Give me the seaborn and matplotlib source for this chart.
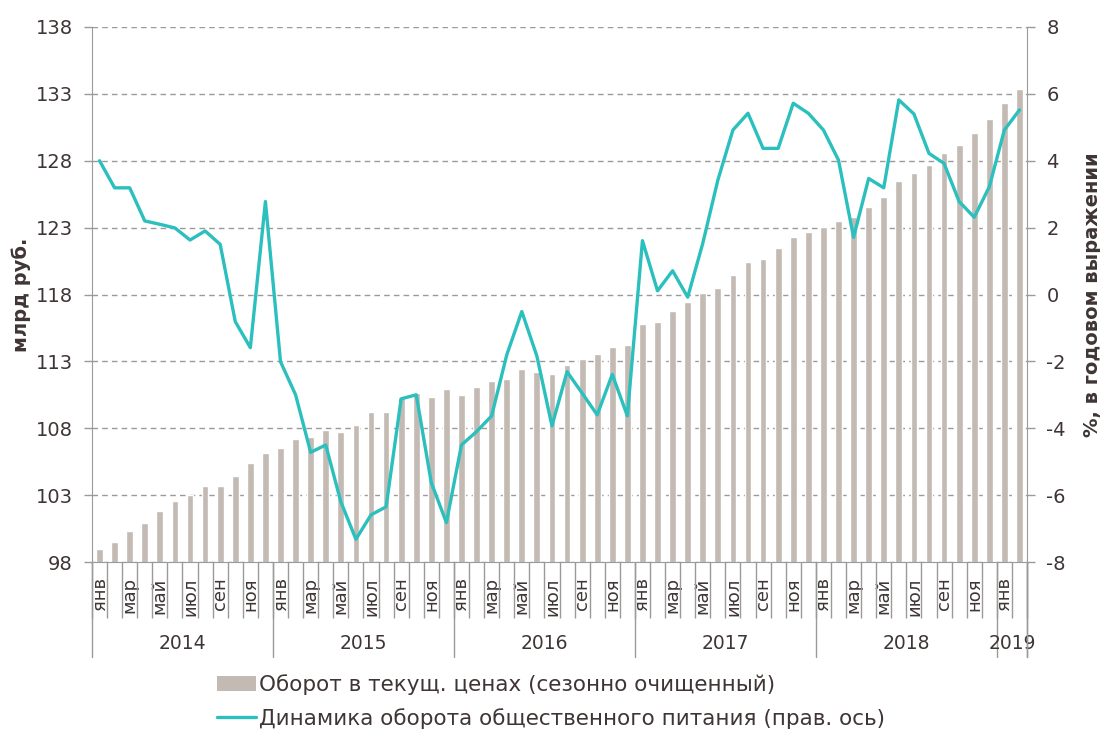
import numpy as np
import pandas as pd
import matplotlib.pyplot as plt
import matplotlib.transforms as mtransforms
from matplotlib.patches import Patch
from matplotlib.lines import Line2D
import seaborn as sns

# Данные (помесячно, янв 2014 - фев 2019)
month_names = ['янв', 'фев', 'мар', 'апр', 'май', 'июн', 'июл', 'авг', 'сен', 'окт', 'ноя', 'дек']
years = ['2014', '2015', '2016', '2017', '2018', '2019']
months_per_year = [12, 12, 12, 12, 12, 2]

turnover = [
    98.95, 99.52, 100.34, 100.92, 101.81, 102.58, 103.0, 103.71, 103.71, 104.4, 105.38, 106.15,
    106.5, 107.17, 107.37, 107.9, 107.7, 108.24, 109.2, 109.2, 110.3, 110.66, 110.3, 110.93,
    110.5, 111.08, 111.53, 111.7, 112.4, 112.2, 112.06, 112.75, 113.18, 113.55, 114.05, 114.22,
    115.82, 115.97, 116.77, 117.46, 118.14, 118.5, 119.46, 120.4, 120.65, 121.45, 122.32, 122.65,
    123.02, 123.47, 123.82, 124.57, 125.29, 126.49, 127.08, 127.71, 128.58, 129.18, 130.07, 131.12,
    132.32, 133.36,
]

growth = [
    4.0, 3.19, 3.19, 2.2, 2.1, 1.99, 1.63, 1.9, 1.5, -0.81, -1.59, 2.78,
    -2.01, -3.0, -4.72, -4.5, -6.2, -7.32, -6.59, -6.35, -3.12, -3.0, -5.63, -6.82,
    -4.5, -4.1, -3.63, -1.81, -0.51, -1.84, -3.93, -2.31, -2.95, -3.6, -2.39, -3.63,
    1.61, 0.11, 0.71, -0.08, 1.53, 3.42, 4.92, 5.42, 4.37, 4.37, 5.72, 5.42,
    4.92, 4.02, 1.71, 3.47, 3.19, 5.82, 5.4, 4.22, 3.92, 2.78, 2.31, 3.22,
    4.92, 5.52,
]

bar_label = 'Оборот в текущ. ценах (сезонно очищенный)'
line_label = 'Динамика оборота общественного питания (прав. ось)'

bar_color = '#c3bab3'
line_color = '#2bbfbd'
text_color = '#3f3535'
axis_color = '#9a9a9a'

n = len(turnover)
month_labels = [month_names[i % 12] for i in range(n)]
df = pd.DataFrame({'idx': np.arange(n), 'turnover': turnover, 'growth': growth})

sns.set_style('white')
plt.rcParams['font.family'] = ['DejaVu Sans']
plt.rcParams['axes.unicode_minus'] = False
plt.rcParams['text.color'] = text_color
plt.rcParams['axes.labelcolor'] = text_color
plt.rcParams['xtick.color'] = axis_color
plt.rcParams['ytick.color'] = axis_color
plt.rcParams['xtick.labelcolor'] = text_color
plt.rcParams['ytick.labelcolor'] = text_color

fig = plt.figure(figsize=(11, 7.36), dpi=100)
ax = fig.add_axes([92 / 1100, 1 - 562 / 736, 935 / 1100, 535 / 736])

sns.barplot(data=df, x='idx', y='turnover', color=bar_color, width=0.45,
            saturation=1, ax=ax)
ax.set_xlim(-0.5, n - 0.5)
ax.set_ylim(98, 138)
ax.set_yticks(np.arange(98, 139, 5))
ax.set_axisbelow(True)
ax.yaxis.grid(True, color='#9a9a9a', linestyle=(0, (4, 3)), linewidth=1)
ax.set_xlabel('')
ax.set_ylabel('млрд руб.', fontsize=14, fontweight='bold')
ax.yaxis.set_label_coords(-0.065, 0.5)

# подписи месяцев: каждый второй
ax.set_xticks(np.arange(n))
ax.set_xticklabels([m if i % 2 == 0 else '' for i, m in enumerate(month_labels)],
                   rotation=90, fontsize=13, va='top')
ax.tick_params(axis='x', which='major', bottom=True, length=0, pad=11)
ax.set_xticks(np.arange(-0.5, n, 1), minor=True)
ax.tick_params(axis='x', which='minor', bottom=True, length=40, width=1,
               color=axis_color, direction='out')
ax.tick_params(axis='y', left=True, length=6, width=1, labelsize=14, pad=8, color=axis_color)

for side in ['top', 'right']:
    ax.spines[side].set_visible(False)
for side in ['left', 'bottom']:
    ax.spines[side].set_color(axis_color)

# линии границ лет и подписи годов
trans = mtransforms.blended_transform_factory(ax.transData, ax.transAxes)
edges = np.concatenate([[0], np.cumsum(months_per_year)]) - 0.5
for e in edges:
    ax.plot([e, e], [0, -0.178], transform=trans, color=axis_color, lw=1, clip_on=False)
for i, y in enumerate(years):
    ax.text((edges[i] + edges[i + 1]) / 2, -0.152, y, transform=trans,
            ha='center', va='center', fontsize=13.5, color=text_color)

# правая ось
ax2 = ax.twinx()
sns.lineplot(data=df, x='idx', y='growth', color=line_color, linewidth=2.4, ax=ax2)
ax2.set_ylim(-8, 8)
ax2.set_yticks(np.arange(-8, 9, 2))
ax2.set_xlim(-0.5, n - 0.5)
ax2.set_ylabel('%, в годовом выражении', fontsize=14, fontweight='bold')
ax2.yaxis.set_label_coords(1.06, 0.5)
ax2.tick_params(axis='y', right=True, length=6, width=1, labelsize=14, pad=8, color=axis_color)
for side in ['top', 'left', 'bottom']:
    ax2.spines[side].set_visible(False)
ax2.spines['right'].set_color(axis_color)
ax2.plot([1, 1], [0, -0.178], transform=ax2.transAxes, color=axis_color, lw=1, clip_on=False)

handles = [Patch(facecolor=bar_color, edgecolor='none', label=bar_label),
           Line2D([0], [0], color=line_color, lw=2.4, label=line_label)]
fig.legend(handles=handles, loc='upper left', bbox_to_anchor=(217 / 1100, 1 - 674 / 736),
           frameon=False, fontsize=15.5, handlelength=1.8, handleheight=0.7,
           handletextpad=0.15, labelspacing=0.62, borderpad=0, borderaxespad=0)

fig.savefig('out.png', dpi=100)
plt.close(fig)
